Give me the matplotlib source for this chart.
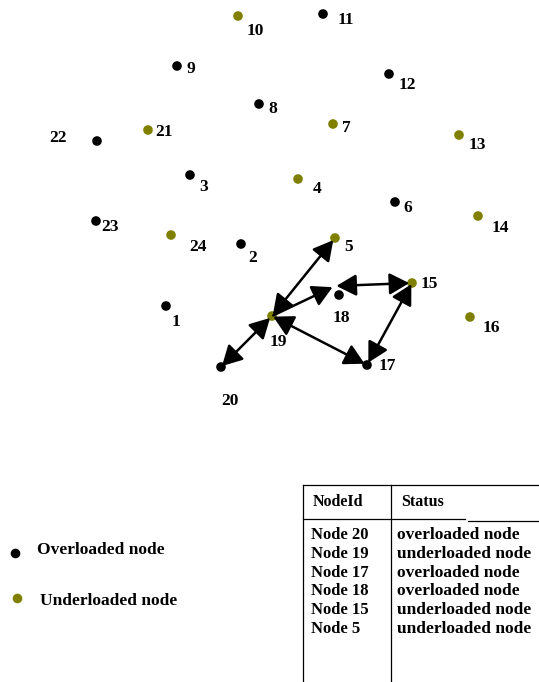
import numpy as np
import matplotlib.pyplot as plt

plt.rcParams['font.family'] = ['Liberation Serif', 'DejaVu Serif']

# ========== data: node positions (picture coordinates) and status ==========
node_id = [1, 2, 3, 4, 5, 6, 7, 8, 9, 10, 11, 12,
           13, 14, 15, 16, 17, 18, 19, 20, 21, 22, 23, 24]
node_x = [166, 241, 190, 298, 335, 395, 333, 259, 177, 238, 323, 389,
          459, 478, 412, 470, 367, 339, 272, 221, 148, 97, 96, 171]
node_y = [306, 244, 175, 179, 238, 202, 124, 104, 66, 16, 14, 74,
          135, 216, 283, 317, 365, 295, 316, 367, 130, 141, 221, 235]
overloaded = [1, 1, 1, 0, 0, 1, 0, 1, 1, 0, 1, 1,
              0, 0, 0, 0, 1, 1, 0, 1, 0, 1, 1, 0]

# label centre offset from the dot (dx, dy)
label_dx = [10, 12, 14, 19, 14, 13, 13, 14, 14, 17, 23, 18,
            18, 22, 17, 21, 20, 2, 6, 9, 16, -39, 14, 27]
label_dy = [16, 14, 12, 10, 9, 6, 4, 5, 3, 15, 6, 11,
            10, 12, 1, 11, 1, 23, 26, 34, 2, -3, 6, 12]

# migration arrows: (from, to, two-headed)
edge_from = [20, 19, 19, 19, 18, 15]
edge_to = [19, 5, 18, 17, 15, 17]
edge_both = [True, True, False, True, True, True]
# arrows meet node 18 a little above-left of its dot
anchor_shift = {18: (-4, -9)}

tbl_header = ['NodeId', 'Status']
tbl_nodes = ['Node 20', 'Node 19', 'Node 17', 'Node 18', 'Node 15', 'Node 5']
tbl_status = ['overloaded node', 'underloaded node', 'overloaded node',
              'overloaded node', 'underloaded node', 'underloaded node']

black = '#000000'
olive = '#808000'

fig = plt.figure(figsize=(5.39, 6.82), dpi=100)
ax = fig.add_axes([0, 0, 1, 1])
ax.set_xlim(0, 539)
ax.set_ylim(682, 0)
ax.axis('off')

pos = {}
for n, x, y in zip(node_id, node_x, node_y):
    sx, sy = anchor_shift.get(n, (0, 0))
    pos[n] = (x + sx, y + sy)

cols = [black if o else olive for o in overloaded]
ax.scatter(node_x, node_y, s=48, c=cols, marker='o', zorder=3, linewidths=0)
for n, x, y, dx, dy in zip(node_id, node_x, node_y, label_dx, label_dy):
    ax.text(x + dx, y + dy, str(n), fontsize=12.5, fontweight='bold',
            ha='center', va='center', zorder=4)

# arrows drawn over the dots, as in the original
for a, b, both in zip(edge_from, edge_to, edge_both):
    style = '<|-|>' if both else '-|>'
    ax.annotate('', xy=pos[b], xytext=pos[a],
                arrowprops=dict(arrowstyle=style + ',head_length=0.55,head_width=0.3',
                                color='black', lw=1.8, mutation_scale=22,
                                shrinkA=1, shrinkB=2), zorder=5)

# ========== legend ==========
ax.scatter([15], [553], s=48, c=black, linewidths=0)
ax.text(37, 550, 'Overloaded node', fontsize=12.5, fontweight='bold', va='center')
ax.scatter([17], [598], s=48, c=olive, linewidths=0)
ax.text(40, 601, 'Underloaded node', fontsize=12.5, fontweight='bold', va='center')

# ========== table ==========
lw = 0.9
ax.plot([303, 539], [485, 485], color='black', lw=lw)
ax.plot([303, 303], [485, 682], color='black', lw=lw)
ax.plot([391, 391], [485, 682], color='black', lw=lw)
ax.plot([303, 465], [519, 519], color='black', lw=lw)
ax.plot([468, 539], [521, 521], color='black', lw=lw)

ax.text(313, 502, tbl_header[0], fontsize=11.5, fontweight='bold', va='center')
ax.text(401, 502, tbl_header[1], fontsize=11.5, fontweight='bold', va='center')
for i, (nd, st) in enumerate(zip(tbl_nodes, tbl_status)):
    y = 535 + i * 18.8
    ax.text(311, y, nd, fontsize=12, fontweight='bold', va='center')
    ax.text(397, y, st, fontsize=12.5, fontweight='bold', va='center')

fig.savefig('out.png', dpi=100)
